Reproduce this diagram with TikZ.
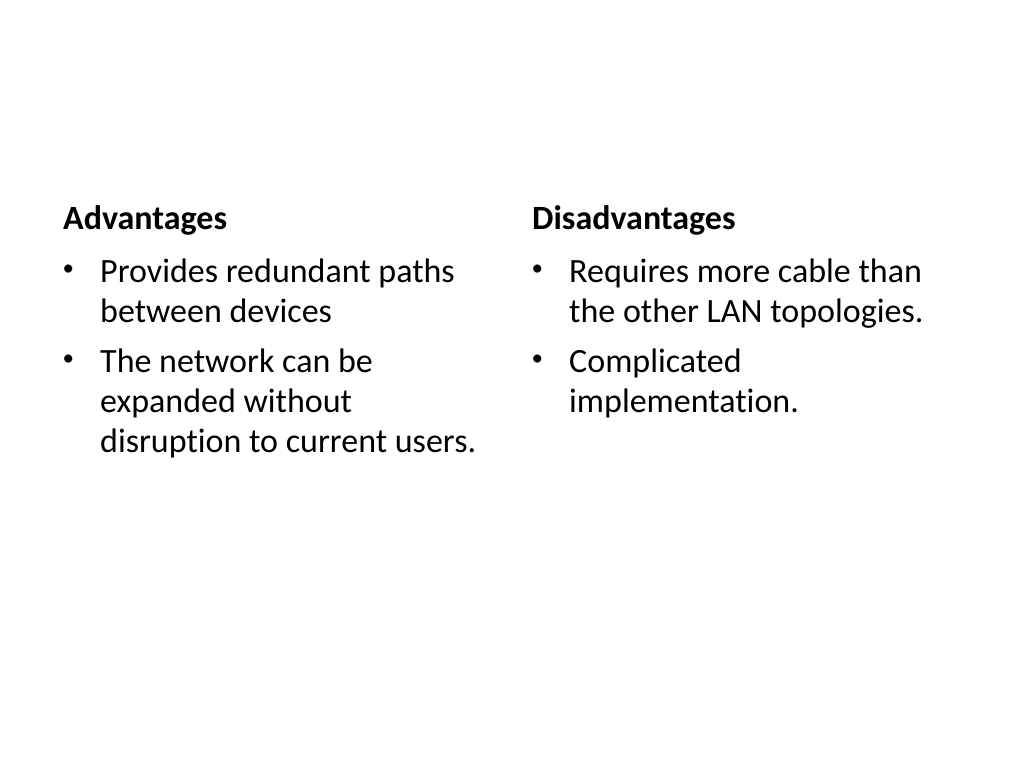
\documentclass[tikz,border=0pt]{standalone}
\usepackage{fontspec}
\setmainfont{Carlito}[Ligatures=NoCommon]
\begin{document}
\begin{tikzpicture}[x=1pt,y=-1pt,
  head/.style={anchor=base west,inner sep=0pt,font=\fontsize{34}{40}\selectfont\bfseries},
  body/.style={anchor=base west,inner sep=0pt,font=\fontsize{34}{40}\selectfont,align=left},
  bul/.style={anchor=base west,inner sep=0pt,font=\fontsize{23}{30}\selectfont}]
\useasboundingbox[fill=white] (0,0) rectangle (1024,768);
\node[head] (advh) at (63,229) {Advantages};
\node[bul] (ab1) at (62.5,275) {•};
\node[body] (a1) at (100,282) {Provides redundant paths};
\node[body] (a1b) at (100,322) {between devices};
\node[bul] (ab2) at (62.5,365) {•};
\node[body] (a2) at (100,372) {The network can be};
\node[body] (a2b) at (100,412) {expanded without};
\node[body] (a2c) at (100,452) {disruption to current users.};
\node[head] (dish) at (532,229) {Disadvantages};
\node[bul] (db1) at (531.5,275) {•};
\node[body] (d1) at (569,282) {Requires more cable than};
\node[body] (d1b) at (569,322) {the other LAN topologies.};
\node[bul] (db2) at (531.5,365) {•};
\node[body] (d2) at (569,372) {Complicated};
\node[body] (d2b) at (569,412) {implementation.};
\end{tikzpicture}
\end{document}
